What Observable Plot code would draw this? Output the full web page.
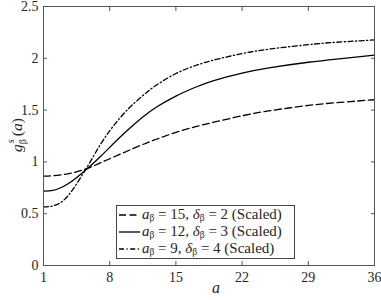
<!DOCTYPE html>
<html><head><meta charset="utf-8">
<script src="https://cdn.jsdelivr.net/npm/d3@7"></script>
<script src="https://cdn.jsdelivr.net/npm/@observablehq/plot@0.6"></script>
<style>
body{margin:0;background:#fff;}
#wrap{position:relative;width:381px;height:300px;}
#wrap, #wrap *{font-family:'Liberation Serif',serif !important;}
#wrap svg text{font-size:14px;}
.ov{position:absolute;color:#262626;}
#ylab{left:-18px;top:126px;width:70px;height:18px;line-height:18px;text-align:center;font-size:15.5px;transform:rotate(-90deg);white-space:nowrap;}
#xlab{left:212px;top:279px;font-size:16px;font-style:italic;}
#legend{left:116px;top:205px;width:177px;height:52px;border:1px solid #444;background:#fff;font-size:15px;}
.row{height:17px;line-height:15px;white-space:nowrap;display:flex;align-items:center;overflow:visible;}
.row svg{margin-left:1px;margin-right:1px;flex:none;}
sub{font-size:9.5px;vertical-align:-2px;line-height:0;}
.ss{display:inline-block;position:relative;width:8px;height:10px;}
.ss .sup{position:absolute;left:1px;top:-6px;font-size:10px;line-height:10px;}
.ss .sb{position:absolute;left:0px;top:6px;font-size:10px;line-height:10px;}
</style></head>
<body><div id="wrap"></div>
<script>
const aVals = [1,2,3,4,5,6,7,8,9,10,11,12,13,15,17,19,22,25,29,32,36];
const s1 = [0.862,0.866,0.876,0.893,0.918,0.95,0.99,1.03,1.07,1.11,1.149,1.186,1.221,1.285,1.338,1.383,1.445,1.495,1.545,1.572,1.60];
const s2 = [0.718,0.726,0.758,0.813,0.885,0.965,1.05,1.14,1.23,1.315,1.395,1.468,1.533,1.635,1.718,1.785,1.857,1.91,1.962,1.993,2.03];
const s3 = [0.565,0.575,0.62,0.72,0.86,1.01,1.165,1.30,1.415,1.515,1.60,1.678,1.745,1.853,1.928,1.983,2.045,2.09,2.132,2.155,2.177];
const xTicks = [1,8,15,22,29,36];
const yTicks = [0,0.5,1,1.5,2,2.5];
const legendParams = [[15,2],[12,3],[9,4]];
const dashes = ["7,3.5", null, "5,2.5,1.2,2.5"];

const toRows = arr => aVals.map((a,i)=>({a, v: arr[i]}));
const curves = [s1,s2,s3].map((arr,k)=>Plot.line(toRows(arr),{x:"a",y:"v",stroke:"#000",strokeWidth:1.3,strokeDasharray:dashes[k],curve:"natural"}));

const axColor = "#555";
const fmt = d => String(d);
const chart = Plot.plot({
  width:381, height:300,
  marginLeft:43, marginRight:7, marginTop:6, marginBottom:35,
  style:{fontSize:"14px", color:"#262626", background:"#fff"},
  x:{domain:[1,36]},
  y:{domain:[0,2.5]},
  marks:[
    ...curves,
    Plot.frame({stroke:axColor}),
    Plot.axisX(xTicks,{anchor:"bottom",tickSize:-4,tickPadding:11,stroke:axColor,label:null,fontSize:14,tickFormat:fmt}),
    Plot.axisX(xTicks,{anchor:"top",tickSize:-4,tickFormat:()=>"",stroke:axColor,label:null}),
    Plot.axisY(yTicks,{anchor:"left",tickSize:-4,tickPadding:9,stroke:axColor,label:null,fontSize:14,tickFormat:fmt}),
    Plot.axisY(yTicks,{anchor:"right",tickSize:-4,tickFormat:()=>"",stroke:axColor,label:null})
  ]
});
const wrap = document.getElementById("wrap");
wrap.appendChild(chart);

function sample(d){
  return `<svg width="23" height="10"><line x1="1" x2="22" y1="5" y2="5" stroke="#000" stroke-width="1.3" ${d?`stroke-dasharray="${d}"`:""}/></svg>`;
}
const legend = document.createElement("div");
legend.id="legend"; legend.className="ov";
legend.innerHTML = legendParams.map((p,k)=>`<div class="row">${sample(dashes[k])}<span><i>a</i><sub>β</sub> = ${p[0]}, <i>δ</i><sub>β</sub> = ${p[1]} (Scaled)</span></div>`).join("");
wrap.appendChild(legend);

const yl = document.createElement("div");
yl.id="ylab"; yl.className="ov";
yl.innerHTML = `<i>g</i><span class="ss"><i class="sup">s</i><span class="sb">β</span></span>(<i>a</i>)`;
wrap.appendChild(yl);
const xl = document.createElement("div");
xl.id="xlab"; xl.className="ov"; xl.textContent="a";
wrap.appendChild(xl);
</script>
</body></html>
